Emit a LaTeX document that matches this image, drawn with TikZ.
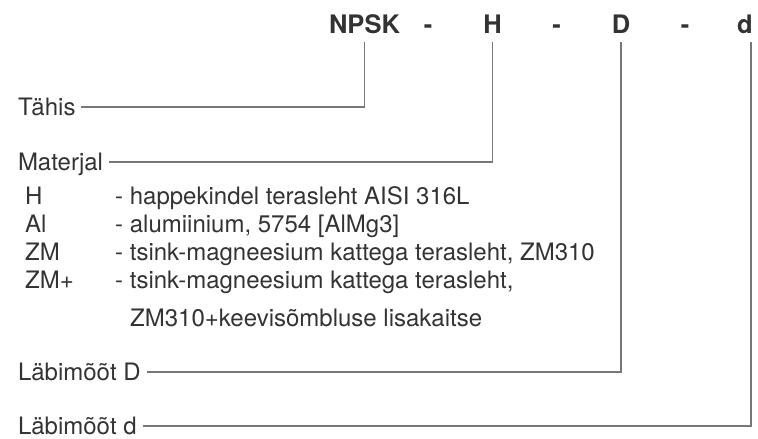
\documentclass[tikz,border=0pt]{standalone}
\usepackage{fontspec}
\setmainfont{TeX Gyre Heros}
\definecolor{textgray}{HTML}{333333}
\definecolor{linegray}{HTML}{777777}
\tikzset{
  code/.style={inner sep=0pt, outer sep=8pt, text depth=0pt, anchor=base,
    font=\fontsize{25.5pt}{28pt}\selectfont\bfseries, text=textgray},
  label/.style={inner sep=0pt, outer sep=6pt, text height=16pt, text depth=0pt,
    anchor=base west, font=\fontsize{24pt}{28pt}\selectfont, text=textgray},
  item/.style={inner sep=0pt, anchor=base west,
    font=\fontsize{24pt}{28pt}\selectfont, text=textgray},
  leader/.style={draw=linegray, line width=1.2pt}
}
\begin{document}
\begin{tikzpicture}[x=1pt, y=-1pt]
\useasboundingbox (0,0) rectangle (758,439);
% designation
\node (npsk) [code] at (364.5,34) {NPSK};
\node (sep1) [code] at (428,34) {-};
\node (hh) [code] at (492.5,34) {H};
\node (sep2) [code] at (556.5,34) {-};
\node (DD) [code] at (621,34) {D};
\node (sep3) [code] at (685,34) {-};
\node (dd) [code] at (745,34) {d};

% labels
\node (tahis) [label] at (12,115) {Tähis};
\node (materjal) [label] at (12,170) {Materjal};
\node (labD) [label] at (12,380) {Läbimõõt D};
\node (labd) [label] at (12,434) {Läbimõõt d};

% materials
\node (kH) [item] at (25,204) {H};
\node (kAl) [item] at (25,232) {Al};
\node (kZM) [item] at (25,260) {ZM};
\node (kZMp) [item] at (25,288) {ZM+};
\node (tH) [item] at (115,204) {- happekindel terasleht AISI 316L};
\node (tAl) [item] at (115,232) {- alumiinium, 5754 [AlMg3]};
\node (tZM) [item] at (115,260) {- tsink-magneesium kattega terasleht, ZM310};
\node (tZMp) [item] at (115,288) {- tsink-magneesium kattega terasleht,};
\node (tZMp2) [item] at (130,326) {ZM310+keevisõmbluse lisakaitse};

\draw[leader] (npsk.south) |- (tahis.east);
\draw[leader] (hh.south) |- (materjal.east);
\draw[leader] (DD.south) |- (labD.east);
\draw[leader] ([xshift=6pt]dd.south) |- (labd.east);
\end{tikzpicture}
\end{document}
